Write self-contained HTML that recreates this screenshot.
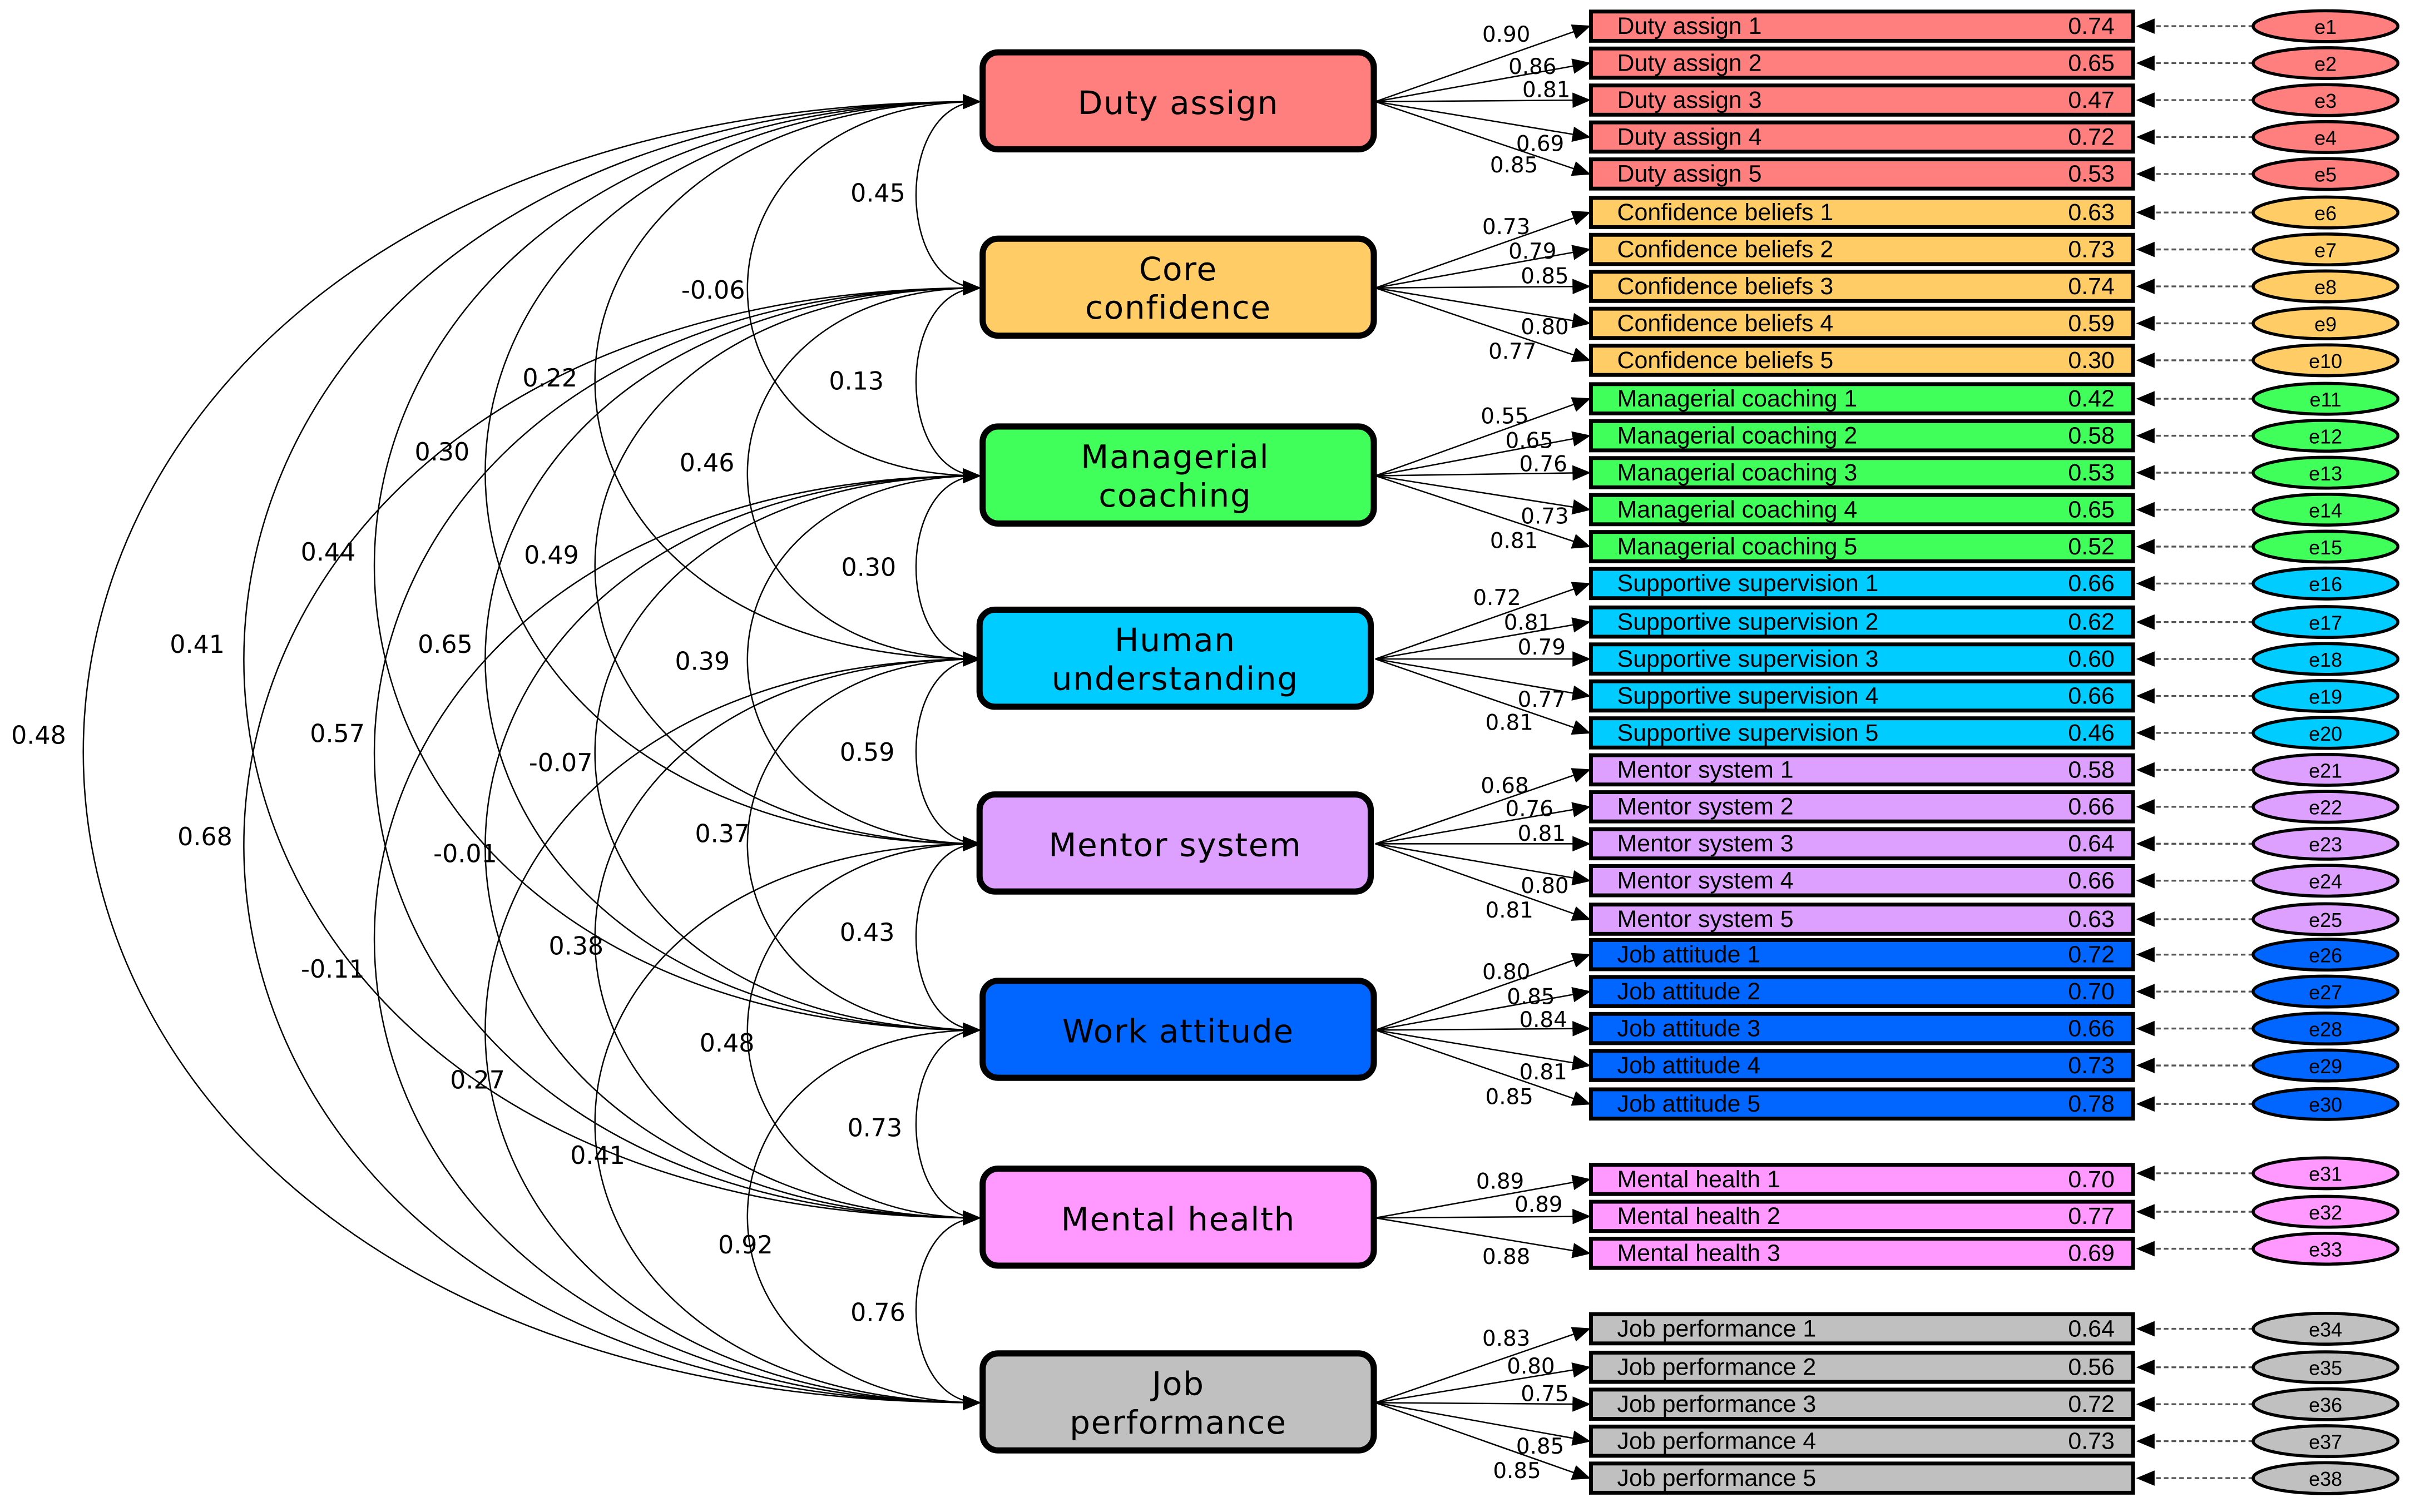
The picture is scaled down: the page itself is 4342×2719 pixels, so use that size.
<!DOCTYPE html>
<html><head><meta charset="utf-8"><style>
html,body{margin:0;padding:0;background:#fff;width:4342px;height:2719px;overflow:hidden}
svg{display:block}
.lt{font-family:"DejaVu Sans","Liberation Sans",sans-serif;font-size:21px;text-anchor:middle;letter-spacing:0.6px}
.it{font-family:"Liberation Sans",sans-serif;font-size:15.5px}
.iv{font-family:"Liberation Sans",sans-serif;font-size:15.5px;text-anchor:end}
.ld{font-family:"DejaVu Sans",sans-serif;font-size:14px;text-anchor:middle}
.cr{font-family:"DejaVu Sans",sans-serif;font-size:16px;text-anchor:middle}
.et{font-family:"Liberation Sans",sans-serif;font-size:13px;text-anchor:middle}
</style></head><body>
<svg width="4342" height="2719" viewBox="0 0 1568 982" xmlns="http://www.w3.org/2000/svg">
<defs>
<marker id="a" markerUnits="userSpaceOnUse" markerWidth="12" markerHeight="10" refX="11" refY="5" orient="auto-start-reverse"><path d="M0,0 L12,5 L0,10 Z" fill="#000"/></marker>
</defs>
<g fill="none" stroke="#000" stroke-width="0.9" marker-start="url(#a)" marker-end="url(#a)">
<path d="M636,66 C581,66 581,187 636,187"/>
<path d="M636,187 C581,187 581,309 636,309"/>
<path d="M636,309 C581,309 581,428 636,428"/>
<path d="M636,428 C581,428 581,548 636,548"/>
<path d="M636,548 C581,548 581,669 636,669"/>
<path d="M636,669 C581,669 581,791 636,791"/>
<path d="M636,791 C581,791 581,911 636,911"/>
<path d="M636,66 C435,66 435,309 636,309"/>
<path d="M636,187 C435,187 435,428 636,428"/>
<path d="M636,309 C435,309 435,548 636,548"/>
<path d="M636,428 C435,428 435,669 636,669"/>
<path d="M636,548 C435,548 435,791 636,791"/>
<path d="M636,669 C435,669 435,911 636,911"/>
<path d="M636,66 C303,66 303,428 636,428"/>
<path d="M636,187 C303,187 303,548 636,548"/>
<path d="M636,309 C303,309 303,669 636,669"/>
<path d="M636,428 C303,428 303,791 636,791"/>
<path d="M636,548 C303,548 303,911 636,911"/>
<path d="M636,66 C208,66 208,548 636,548"/>
<path d="M636,187 C208,187 208,669 636,669"/>
<path d="M636,309 C208,309 208,791 636,791"/>
<path d="M636,428 C208,428 208,911 636,911"/>
<path d="M636,66 C112,66 112,669 636,669"/>
<path d="M636,187 C112,187 112,791 636,791"/>
<path d="M636,309 C112,309 112,911 636,911"/>
<path d="M636,66 C-1,66 -1,791 636,791"/>
<path d="M636,187 C-1,187 -1,911 636,911"/>
<path d="M636,66 C-140,66 -140,911 636,911"/>
</g>
<g class="cr">
<text x="570" y="131">0.45</text><text x="463" y="194">-0.06</text><text x="357" y="251">0.22</text><text x="287" y="299">0.30</text><text x="213" y="364">0.44</text><text x="128" y="424">0.41</text><text x="25" y="483">0.48</text>
<text x="556" y="253">0.13</text><text x="459" y="306">0.46</text><text x="358" y="366">0.49</text><text x="289" y="424">0.65</text><text x="219" y="482">0.57</text><text x="133" y="549">0.68</text>
<text x="564" y="374">0.30</text><text x="456" y="435">0.39</text><text x="364" y="501">-0.07</text><text x="302" y="560">-0.01</text><text x="216" y="635">-0.11</text>
<text x="563" y="494">0.59</text><text x="469" y="547">0.37</text><text x="374" y="620">0.38</text><text x="310" y="707">0.27</text>
<text x="563" y="611">0.43</text><text x="472" y="683">0.48</text><text x="388" y="756">0.41</text>
<text x="568" y="738">0.73</text><text x="484" y="814">0.92</text><text x="570" y="858">0.76</text>
</g>
<g stroke="#000" stroke-width="0.9" marker-end="url(#a)">
<line x1="893" y1="66" x2="1032" y2="17"/><line x1="893" y1="66" x2="1032" y2="41"/><line x1="893" y1="66" x2="1032" y2="65"/><line x1="893" y1="66" x2="1032" y2="89"/><line x1="893" y1="66" x2="1032" y2="113"/>
<line x1="893" y1="187" x2="1032" y2="138"/><line x1="893" y1="187" x2="1032" y2="162"/><line x1="893" y1="187" x2="1032" y2="186"/><line x1="893" y1="187" x2="1032" y2="210"/><line x1="893" y1="187" x2="1032" y2="234"/>
<line x1="893" y1="309" x2="1032" y2="259"/><line x1="893" y1="309" x2="1032" y2="283"/><line x1="893" y1="309" x2="1032" y2="307"/><line x1="893" y1="309" x2="1032" y2="331"/><line x1="893" y1="309" x2="1032" y2="355"/>
<line x1="893" y1="428" x2="1032" y2="379"/><line x1="893" y1="428" x2="1032" y2="404"/><line x1="893" y1="428" x2="1032" y2="428"/><line x1="893" y1="428" x2="1032" y2="452"/><line x1="893" y1="428" x2="1032" y2="476"/>
<line x1="893" y1="548" x2="1032" y2="500"/><line x1="893" y1="548" x2="1032" y2="524"/><line x1="893" y1="548" x2="1032" y2="548"/><line x1="893" y1="548" x2="1032" y2="572"/><line x1="893" y1="548" x2="1032" y2="597"/>
<line x1="893" y1="669" x2="1032" y2="620"/><line x1="893" y1="669" x2="1032" y2="644"/><line x1="893" y1="669" x2="1032" y2="668"/><line x1="893" y1="669" x2="1032" y2="692"/><line x1="893" y1="669" x2="1032" y2="717"/>
<line x1="893" y1="791" x2="1032" y2="766"/><line x1="893" y1="791" x2="1032" y2="790"/><line x1="893" y1="791" x2="1032" y2="814"/>
<line x1="893" y1="911" x2="1032" y2="863"/><line x1="893" y1="911" x2="1032" y2="888"/><line x1="893" y1="911" x2="1032" y2="912"/><line x1="893" y1="911" x2="1032" y2="936"/><line x1="893" y1="911" x2="1032" y2="960"/>
</g>
<g class="ld">
<text x="978" y="27">0.90</text><text x="995" y="48">0.86</text><text x="1004" y="63">0.81</text><text x="1000" y="98">0.69</text><text x="983" y="112">0.85</text>
<text x="978" y="152">0.73</text><text x="995" y="168">0.79</text><text x="1003" y="184">0.85</text><text x="1003" y="217">0.80</text><text x="982" y="233">0.77</text>
<text x="977" y="275">0.55</text><text x="993" y="291">0.65</text><text x="1002" y="306">0.76</text><text x="1003" y="340">0.73</text><text x="983" y="356">0.81</text>
<text x="972" y="393">0.72</text><text x="992" y="409">0.81</text><text x="1001" y="425">0.79</text><text x="1001" y="459">0.77</text><text x="980" y="474">0.81</text>
<text x="977" y="515">0.68</text><text x="993" y="530">0.76</text><text x="1001" y="546">0.81</text><text x="1003" y="580">0.80</text><text x="980" y="596">0.81</text>
<text x="978" y="636">0.80</text><text x="994" y="652">0.85</text><text x="1002" y="667">0.84</text><text x="1002" y="701">0.81</text><text x="980" y="717">0.85</text>
<text x="974" y="772">0.89</text><text x="999" y="787">0.89</text><text x="978" y="821">0.88</text>
<text x="978" y="874">0.83</text><text x="994" y="892">0.80</text><text x="1003" y="910">0.75</text><text x="1000" y="944">0.85</text><text x="985" y="960">0.85</text>
</g>
<g stroke="#000" stroke-width="4">
<rect x="638" y="34" width="254" height="63" rx="10" fill="#FF7F7F"/>
<rect x="638" y="155" width="254" height="63" rx="10" fill="#FFCC66"/>
<rect x="638" y="277" width="254" height="63" rx="10" fill="#40FF5A"/>
<rect x="636" y="396" width="254" height="63" rx="10" fill="#00CCFF"/>
<rect x="636" y="516" width="254" height="63" rx="10" fill="#DDA0FF"/>
<rect x="638" y="637" width="254" height="63" rx="10" fill="#0066FF"/>
<rect x="638" y="759" width="254" height="63" rx="10" fill="#FF99FF"/>
<rect x="638" y="879" width="254" height="63" rx="10" fill="#C0C0C0"/>
</g>
<g class="lt">
<text x="765" y="74">Duty assign</text>
<text x="765" y="182">Core</text><text x="765" y="207">confidence</text>
<text x="763" y="304">Managerial</text><text x="763" y="329">coaching</text>
<text x="763" y="423">Human</text><text x="763" y="448">understanding</text>
<text x="763" y="556">Mentor system</text>
<text x="765" y="677">Work attitude</text>
<text x="765" y="799">Mental health</text>
<text x="765" y="906">Job</text><text x="765" y="931">performance</text>
</g>
<g stroke="#000" stroke-width="2.5">
<g fill="#FF7F7F"><rect x="1033" y="7.5" width="352" height="19"/><rect x="1033" y="31.5" width="352" height="19"/><rect x="1033" y="55.5" width="352" height="19"/><rect x="1033" y="79.5" width="352" height="19"/><rect x="1033" y="103.5" width="352" height="19"/></g>
<g fill="#FFCC66"><rect x="1033" y="128.5" width="352" height="19"/><rect x="1033" y="152.5" width="352" height="19"/><rect x="1033" y="176.5" width="352" height="19"/><rect x="1033" y="200.5" width="352" height="19"/><rect x="1033" y="224.5" width="352" height="19"/></g>
<g fill="#40FF5A"><rect x="1033" y="249.5" width="352" height="19"/><rect x="1033" y="273.5" width="352" height="19"/><rect x="1033" y="297.5" width="352" height="19"/><rect x="1033" y="321.5" width="352" height="19"/><rect x="1033" y="345.5" width="352" height="19"/></g>
<g fill="#00CCFF"><rect x="1033" y="369.5" width="352" height="19"/><rect x="1033" y="394.5" width="352" height="19"/><rect x="1033" y="418.5" width="352" height="19"/><rect x="1033" y="442.5" width="352" height="19"/><rect x="1033" y="466.5" width="352" height="19"/></g>
<g fill="#DDA0FF"><rect x="1033" y="490.5" width="352" height="19"/><rect x="1033" y="514.5" width="352" height="19"/><rect x="1033" y="538.5" width="352" height="19"/><rect x="1033" y="562.5" width="352" height="19"/><rect x="1033" y="587.5" width="352" height="19"/></g>
<g fill="#0066FF"><rect x="1033" y="610.5" width="352" height="19"/><rect x="1033" y="634.5" width="352" height="19"/><rect x="1033" y="658.5" width="352" height="19"/><rect x="1033" y="682.5" width="352" height="19"/><rect x="1033" y="707.5" width="352" height="19"/></g>
<g fill="#FF99FF"><rect x="1033" y="756.5" width="352" height="19"/><rect x="1033" y="780.5" width="352" height="19"/><rect x="1033" y="804.5" width="352" height="19"/></g>
<g fill="#C0C0C0"><rect x="1033" y="853.5" width="352" height="19"/><rect x="1033" y="878.5" width="352" height="19"/><rect x="1033" y="902.5" width="352" height="19"/><rect x="1033" y="926.5" width="352" height="19"/><rect x="1033" y="950.5" width="352" height="19"/></g>
</g>
<g class="it">
<text x="1050" y="22">Duty assign 1</text><text x="1050" y="46">Duty assign 2</text><text x="1050" y="70">Duty assign 3</text><text x="1050" y="94">Duty assign 4</text><text x="1050" y="118">Duty assign 5</text>
<text x="1050" y="143">Confidence beliefs 1</text><text x="1050" y="167">Confidence beliefs 2</text><text x="1050" y="191">Confidence beliefs 3</text><text x="1050" y="215">Confidence beliefs 4</text><text x="1050" y="239">Confidence beliefs 5</text>
<text x="1050" y="264">Managerial coaching 1</text><text x="1050" y="288">Managerial coaching 2</text><text x="1050" y="312">Managerial coaching 3</text><text x="1050" y="336">Managerial coaching 4</text><text x="1050" y="360">Managerial coaching 5</text>
<text x="1050" y="384">Supportive supervision 1</text><text x="1050" y="409">Supportive supervision 2</text><text x="1050" y="433">Supportive supervision 3</text><text x="1050" y="457">Supportive supervision 4</text><text x="1050" y="481">Supportive supervision 5</text>
<text x="1050" y="505">Mentor system 1</text><text x="1050" y="529">Mentor system 2</text><text x="1050" y="553">Mentor system 3</text><text x="1050" y="577">Mentor system 4</text><text x="1050" y="602">Mentor system 5</text>
<text x="1050" y="625">Job attitude 1</text><text x="1050" y="649">Job attitude 2</text><text x="1050" y="673">Job attitude 3</text><text x="1050" y="697">Job attitude 4</text><text x="1050" y="722">Job attitude 5</text>
<text x="1050" y="771">Mental health 1</text><text x="1050" y="795">Mental health 2</text><text x="1050" y="819">Mental health 3</text>
<text x="1050" y="868">Job performance 1</text><text x="1050" y="893">Job performance 2</text><text x="1050" y="917">Job performance 3</text><text x="1050" y="941">Job performance 4</text><text x="1050" y="965">Job performance 5</text>
</g>
<g class="iv">
<text x="1373" y="22">0.74</text><text x="1373" y="46">0.65</text><text x="1373" y="70">0.47</text><text x="1373" y="94">0.72</text><text x="1373" y="118">0.53</text>
<text x="1373" y="143">0.63</text><text x="1373" y="167">0.73</text><text x="1373" y="191">0.74</text><text x="1373" y="215">0.59</text><text x="1373" y="239">0.30</text>
<text x="1373" y="264">0.42</text><text x="1373" y="288">0.58</text><text x="1373" y="312">0.53</text><text x="1373" y="336">0.65</text><text x="1373" y="360">0.52</text>
<text x="1373" y="384">0.66</text><text x="1373" y="409">0.62</text><text x="1373" y="433">0.60</text><text x="1373" y="457">0.66</text><text x="1373" y="481">0.46</text>
<text x="1373" y="505">0.58</text><text x="1373" y="529">0.66</text><text x="1373" y="553">0.64</text><text x="1373" y="577">0.66</text><text x="1373" y="602">0.63</text>
<text x="1373" y="625">0.72</text><text x="1373" y="649">0.70</text><text x="1373" y="673">0.66</text><text x="1373" y="697">0.73</text><text x="1373" y="722">0.78</text>
<text x="1373" y="771">0.70</text><text x="1373" y="795">0.77</text><text x="1373" y="819">0.69</text>
<text x="1373" y="868">0.64</text><text x="1373" y="893">0.56</text><text x="1373" y="917">0.72</text><text x="1373" y="941">0.73</text>
</g>
<g stroke="#555" stroke-width="1.2" stroke-dasharray="3,2" marker-end="url(#a)">
<line x1="1463" y1="17" x2="1388" y2="17"/><line x1="1463" y1="41" x2="1388" y2="41"/><line x1="1463" y1="65" x2="1388" y2="65"/><line x1="1463" y1="89" x2="1388" y2="89"/><line x1="1463" y1="113" x2="1388" y2="113"/>
<line x1="1463" y1="138" x2="1388" y2="138"/><line x1="1463" y1="162" x2="1388" y2="162"/><line x1="1463" y1="186" x2="1388" y2="186"/><line x1="1463" y1="210" x2="1388" y2="210"/><line x1="1463" y1="234" x2="1388" y2="234"/>
<line x1="1463" y1="259" x2="1388" y2="259"/><line x1="1463" y1="283" x2="1388" y2="283"/><line x1="1463" y1="307" x2="1388" y2="307"/><line x1="1463" y1="331" x2="1388" y2="331"/><line x1="1463" y1="355" x2="1388" y2="355"/>
<line x1="1463" y1="379" x2="1388" y2="379"/><line x1="1463" y1="404" x2="1388" y2="404"/><line x1="1463" y1="428" x2="1388" y2="428"/><line x1="1463" y1="452" x2="1388" y2="452"/><line x1="1463" y1="476" x2="1388" y2="476"/>
<line x1="1463" y1="500" x2="1388" y2="500"/><line x1="1463" y1="524" x2="1388" y2="524"/><line x1="1463" y1="548" x2="1388" y2="548"/><line x1="1463" y1="572" x2="1388" y2="572"/><line x1="1463" y1="597" x2="1388" y2="597"/>
<line x1="1463" y1="620" x2="1388" y2="620"/><line x1="1463" y1="644" x2="1388" y2="644"/><line x1="1463" y1="668" x2="1388" y2="668"/><line x1="1463" y1="692" x2="1388" y2="692"/><line x1="1463" y1="717" x2="1388" y2="717"/>
<line x1="1463" y1="762" x2="1388" y2="762"/><line x1="1463" y1="787" x2="1388" y2="787"/><line x1="1463" y1="811" x2="1388" y2="811"/>
<line x1="1463" y1="863" x2="1388" y2="863"/><line x1="1463" y1="888" x2="1388" y2="888"/><line x1="1463" y1="912" x2="1388" y2="912"/><line x1="1463" y1="936" x2="1388" y2="936"/><line x1="1463" y1="960" x2="1388" y2="960"/>
</g>
<g stroke="#000" stroke-width="2">
<g fill="#FF7F7F"><ellipse cx="1510" cy="17" rx="47" ry="10"/><ellipse cx="1510" cy="41" rx="47" ry="10"/><ellipse cx="1510" cy="65" rx="47" ry="10"/><ellipse cx="1510" cy="89" rx="47" ry="10"/><ellipse cx="1510" cy="113" rx="47" ry="10"/></g>
<g fill="#FFCC66"><ellipse cx="1510" cy="138" rx="47" ry="10"/><ellipse cx="1510" cy="162" rx="47" ry="10"/><ellipse cx="1510" cy="186" rx="47" ry="10"/><ellipse cx="1510" cy="210" rx="47" ry="10"/><ellipse cx="1510" cy="234" rx="47" ry="10"/></g>
<g fill="#40FF5A"><ellipse cx="1510" cy="259" rx="47" ry="10"/><ellipse cx="1510" cy="283" rx="47" ry="10"/><ellipse cx="1510" cy="307" rx="47" ry="10"/><ellipse cx="1510" cy="331" rx="47" ry="10"/><ellipse cx="1510" cy="355" rx="47" ry="10"/></g>
<g fill="#00CCFF"><ellipse cx="1510" cy="379" rx="47" ry="10"/><ellipse cx="1510" cy="404" rx="47" ry="10"/><ellipse cx="1510" cy="428" rx="47" ry="10"/><ellipse cx="1510" cy="452" rx="47" ry="10"/><ellipse cx="1510" cy="476" rx="47" ry="10"/></g>
<g fill="#DDA0FF"><ellipse cx="1510" cy="500" rx="47" ry="10"/><ellipse cx="1510" cy="524" rx="47" ry="10"/><ellipse cx="1510" cy="548" rx="47" ry="10"/><ellipse cx="1510" cy="572" rx="47" ry="10"/><ellipse cx="1510" cy="597" rx="47" ry="10"/></g>
<g fill="#0066FF"><ellipse cx="1510" cy="620" rx="47" ry="10"/><ellipse cx="1510" cy="644" rx="47" ry="10"/><ellipse cx="1510" cy="668" rx="47" ry="10"/><ellipse cx="1510" cy="692" rx="47" ry="10"/><ellipse cx="1510" cy="717" rx="47" ry="10"/></g>
<g fill="#FF99FF"><ellipse cx="1510" cy="762" rx="47" ry="10"/><ellipse cx="1510" cy="787" rx="47" ry="10"/><ellipse cx="1510" cy="811" rx="47" ry="10"/></g>
<g fill="#C0C0C0"><ellipse cx="1510" cy="863" rx="47" ry="10"/><ellipse cx="1510" cy="888" rx="47" ry="10"/><ellipse cx="1510" cy="912" rx="47" ry="10"/><ellipse cx="1510" cy="936" rx="47" ry="10"/><ellipse cx="1510" cy="960" rx="47" ry="10"/></g>
</g>
<g class="et">
<text x="1510" y="22">e1</text><text x="1510" y="46">e2</text><text x="1510" y="70">e3</text><text x="1510" y="94">e4</text><text x="1510" y="118">e5</text>
<text x="1510" y="143">e6</text><text x="1510" y="167">e7</text><text x="1510" y="191">e8</text><text x="1510" y="215">e9</text><text x="1510" y="239">e10</text>
<text x="1510" y="264">e11</text><text x="1510" y="288">e12</text><text x="1510" y="312">e13</text><text x="1510" y="336">e14</text><text x="1510" y="360">e15</text>
<text x="1510" y="384">e16</text><text x="1510" y="409">e17</text><text x="1510" y="433">e18</text><text x="1510" y="457">e19</text><text x="1510" y="481">e20</text>
<text x="1510" y="505">e21</text><text x="1510" y="529">e22</text><text x="1510" y="553">e23</text><text x="1510" y="577">e24</text><text x="1510" y="602">e25</text>
<text x="1510" y="625">e26</text><text x="1510" y="649">e27</text><text x="1510" y="673">e28</text><text x="1510" y="697">e29</text><text x="1510" y="722">e30</text>
<text x="1510" y="767">e31</text><text x="1510" y="792">e32</text><text x="1510" y="816">e33</text>
<text x="1510" y="868">e34</text><text x="1510" y="893">e35</text><text x="1510" y="917">e36</text><text x="1510" y="941">e37</text><text x="1510" y="965">e38</text>
</g>
</svg>
</body></html>
